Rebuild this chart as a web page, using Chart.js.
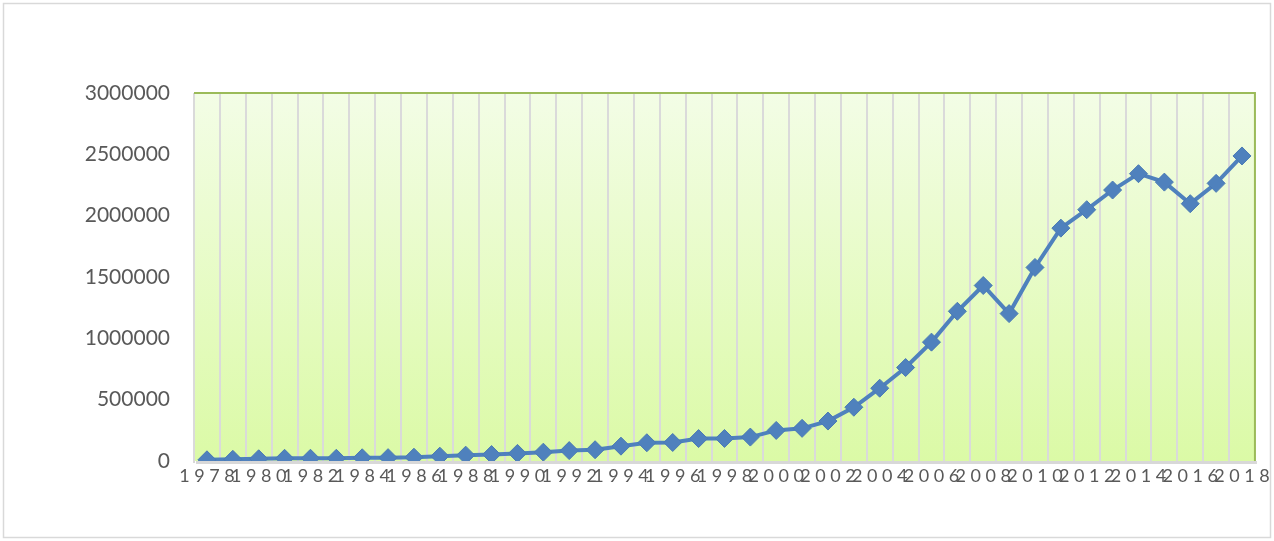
<!DOCTYPE html>
<html>
<head>
<meta charset="utf-8">
<script src="https://cdn.jsdelivr.net/npm/chart.js@4/dist/chart.umd.min.js"></script>
<style>
html,body{margin:0;padding:0;background:#fff;}
#wrap{position:relative;width:1274px;height:541px;}
</style>
</head>
<body>
<div id="wrap"><canvas id="c" width="1274" height="541"></canvas></div>
<script>
const years = [];
for (let y = 1978; y <= 2018; y++) years.push(String(y));
const exportsValues = [9750, 13660, 18120, 22010, 22320, 22230, 26140, 27350, 30940, 39440,
  47520, 52540, 62090, 71840, 84940, 91740, 121010, 148780, 151050, 182790,
  183710, 194930, 249203, 266098, 325596, 438228, 593326, 761953, 968978, 1220456,
  1430693, 1201612, 1577754, 1898381, 2048714, 2209004, 2342293, 2273468, 2097631, 2263371,
  2486695];
const yTicks = [0, 500000, 1000000, 1500000, 2000000, 2500000, 3000000];

const bgPlugin = {
  id: 'bg',
  beforeDraw(chart) {
    const {ctx, chartArea: a} = chart;
    ctx.save();
    ctx.strokeStyle = '#d9d9d9';
    ctx.lineWidth = 1.5;
    ctx.strokeRect(3.5, 3.5, 1267, 534);
    ctx.fillStyle = '#d8d8d8';
    ctx.fillRect(a.left + 2, a.bottom, a.right - a.left, 3);
    ctx.fillRect(a.left - 1, a.top + 2, 2, a.bottom - a.top);
    const g = ctx.createLinearGradient(0, a.top, 0, a.bottom);
    g.addColorStop(0, '#f3fde6');
    g.addColorStop(1, '#dbfaa6');
    ctx.fillStyle = g;
    ctx.fillRect(a.left, a.top, a.right - a.left, a.bottom - a.top);
    ctx.restore();
  },
  beforeDatasetsDraw(chart) {
    const {ctx, chartArea: a} = chart;
    ctx.save();
    ctx.strokeStyle = '#9bbb59';
    ctx.lineWidth = 2;
    ctx.beginPath();
    ctx.moveTo(a.left, a.top);
    ctx.lineTo(a.right, a.top);
    ctx.lineTo(a.right, a.bottom);
    ctx.stroke();
    ctx.restore();
  }
};

new Chart(document.getElementById('c'), {
  type: 'line',
  data: {
    labels: years,
    datasets: [{
      data: exportsValues,
      borderColor: '#4f81bd',
      backgroundColor: '#4f81bd',
      borderWidth: 4,
      tension: 0,
      pointStyle: 'rectRot',
      pointRadius: 9,
      pointHoverRadius: 9,
      pointBackgroundColor: '#4f81bd',
      pointBorderColor: '#4a7ab5',
      pointBorderWidth: 1
    }]
  },
  options: {
    responsive: false,
    animation: false,
    events: [],
    layout: {padding: {left: 0, top: 93, right: 18, bottom: 0}},
    plugins: {legend: {display: false}, tooltip: {enabled: false}},
    scales: {
      x: {
        offset: true,
        grid: {offset: true, color: '#dadada', lineWidth: 2, drawTicks: false},
        border: {display: false},
        ticks: {
          autoSkip: false, maxRotation: 0, minRotation: 0, padding: 4,
          color: '#595959',
          font: {family: 'Lato', size: 18},
          callback: (v, i) => i % 2 === 0 ? years[i].split('').join(' ') : ''
        },
        afterFit: s => { s.height = 80; }
      },
      y: {
        min: 0, max: 3000000,
        afterBuildTicks: s => { s.ticks = yTicks.map(v => ({value: v})); },
        grid: {display: false, drawTicks: false},
        border: {display: false},
        ticks: {padding: 24, color: '#595959', font: {family: 'Lato', size: 21},
          callback: v => String(v)},
        afterFit: s => { s.width = 194; }
      }
    }
  },
  plugins: [bgPlugin]
});
</script>
</body>
</html>
